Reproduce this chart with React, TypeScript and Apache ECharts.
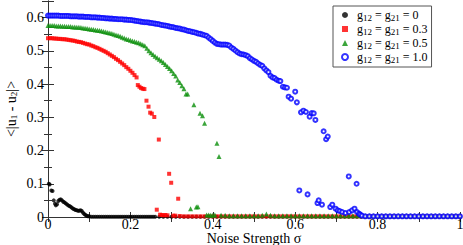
import React, { useEffect, useRef } from 'react';
import * as echarts from 'echarts';

// sigma, <|u1-u2|>  for g12 = g21 = 0
const g0Points: [number, number][] = [
  [0.002,0.1],[0.004,0.098],[0.008,0.08],[0.011,0.078],[0.014,0.05],[0.017,0.04],[0.019,0.035],[0.022,0.038],
  [0.025,0.048],[0.028,0.052],[0.031,0.053],[0.034,0.05],[0.037,0.046],[0.04,0.044],[0.043,0.041],[0.046,0.038],
  [0.049,0.035],[0.052,0.033],[0.055,0.031],[0.058,0.028],[0.061,0.025],[0.064,0.023],[0.067,0.021],[0.07,0.02],
  [0.073,0.019],[0.076,0.019],[0.079,0.02],[0.082,0.018],[0.085,0.013],[0.088,0.009],[0.091,0.006],[0.094,0.004],
  [0.097,0.002],[0.1,0.002],[0.105,0.001],[0.11,0.001],[0.115,0.001],[0.12,0.001],[0.125,0.001],[0.13,0.001],
  [0.135,0.001],[0.14,0.001],[0.145,0.001],[0.15,0.001],[0.155,0.001],[0.16,0.001],[0.165,0.001],[0.17,0.001],
  [0.175,0.001],[0.18,0.001],[0.185,0.001],[0.19,0.001],[0.195,0.001],[0.2,0.001],[0.205,0.001],[0.21,0.001],
  [0.215,0.001],[0.22,0.001],[0.225,0.001],[0.23,0.001],[0.235,0.001],[0.24,0.001],[0.245,0.001],[0.25,0.001],
  [0.255,0.001],[0.26,0.001],[0.27,0.001],[0.28,0.001],[0.29,0.001],[0.3,0.001],[0.31,0.001],[0.32,0.001],
  [0.33,0.001],[0.34,0.001],[0.35,0.001],[0.36,0.001],[0.37,0.001],[0.38,0.001],[0.39,0.001],[0.4,0.001],
  [0.41,0.001],[0.42,0.001],[0.43,0.001],[0.44,0.001],[0.45,0.001],[0.46,0.001],[0.47,0.001],[0.48,0.001],
  [0.49,0.001],[0.5,0.001],[0.51,0.001],[0.52,0.001],[0.53,0.001],[0.54,0.001],[0.55,0.001],[0.56,0.001],
  [0.57,0.001],[0.58,0.001],[0.59,0.001],[0.6,0.001],[0.61,0.001],[0.62,0.001],[0.63,0.001],[0.64,0.001],
  [0.65,0.001],[0.66,0.001],[0.67,0.001],[0.68,0.001],[0.69,0.001],[0.7,0.001],[0.71,0.001],[0.72,0.001],
  [0.73,0.001],[0.74,0.001],[0.75,0.001],[0.76,0.001],[0.77,0.001],[0.78,0.001],[0.79,0.001],[0.8,0.001],
  [0.81,0.001],[0.82,0.001],[0.83,0.001],[0.84,0.001],[0.85,0.001],[0.86,0.001],[0.87,0.001],[0.88,0.001],
  [0.89,0.001],[0.9,0.001],[0.91,0.001],[0.92,0.001],[0.93,0.001],[0.94,0.001],[0.95,0.001],[0.96,0.001],
  [0.97,0.001],[0.98,0.001],[0.99,0.001],[1.0,0.001],
];

// g12 = g21 = 0.3
const g03Points: [number, number][] = [
  [0,0.538],[0.005,0.538],[0.01,0.538],[0.015,0.537],[0.02,0.537],[0.025,0.536],[0.03,0.536],[0.035,0.535],
  [0.04,0.535],[0.045,0.534],[0.05,0.533],[0.055,0.532],[0.06,0.531],[0.065,0.53],[0.07,0.528],[0.075,0.527],
  [0.08,0.526],[0.085,0.524],[0.09,0.522],[0.095,0.52],[0.1,0.519],[0.105,0.516],[0.11,0.514],[0.115,0.511],
  [0.12,0.509],[0.125,0.506],[0.13,0.503],[0.135,0.5],[0.14,0.497],[0.145,0.493],[0.15,0.489],[0.155,0.485],
  [0.16,0.481],[0.165,0.476],[0.17,0.472],[0.175,0.467],[0.18,0.462],[0.185,0.457],[0.19,0.451],[0.195,0.446],
  [0.2,0.44],[0.205,0.434],[0.21,0.427],[0.215,0.42],[0.218,0.397],[0.222,0.392],[0.226,0.388],[0.23,0.386],
  [0.234,0.385],[0.239,0.35],[0.244,0.332],[0.248,0.314],[0.252,0.311],[0.258,0.301],[0.264,0.022],[0.269,0.233],
  [0.272,0.007],[0.276,0.006],[0.281,0.005],[0.285,0.006],[0.29,0.005],[0.294,0.13],[0.299,0.103],[0.304,0.004],
  [0.309,0.004],[0.316,0.055],[0.32,0.003],[0.33,0.002],[0.34,0.002],[0.35,0.002],[0.36,0.002],[0.37,0.002],
  [0.38,0.002],[0.39,0.002],[0.4,0.002],[0.41,0.002],[0.42,0.002],[0.43,0.002],[0.44,0.002],[0.45,0.002],
  [0.46,0.002],[0.47,0.002],[0.48,0.002],[0.49,0.002],[0.5,0.002],[0.51,0.002],[0.52,0.002],[0.53,0.002],
  [0.54,0.002],[0.55,0.002],[0.56,0.002],[0.57,0.002],[0.58,0.002],[0.59,0.002],[0.6,0.002],[0.61,0.002],
  [0.62,0.002],[0.63,0.002],[0.64,0.002],[0.65,0.002],[0.66,0.002],[0.67,0.002],[0.68,0.002],[0.69,0.002],
  [0.7,0.002],[0.71,0.002],[0.72,0.002],[0.73,0.002],[0.74,0.002],[0.75,0.002],[0.76,0.002],[0.77,0.002],
  [0.78,0.002],[0.79,0.002],[0.8,0.002],[0.81,0.002],[0.82,0.002],[0.83,0.002],[0.84,0.002],[0.85,0.002],
  [0.86,0.002],[0.87,0.002],[0.88,0.002],[0.89,0.002],[0.9,0.002],[0.91,0.002],[0.92,0.002],[0.93,0.002],
  [0.94,0.002],[0.95,0.002],[0.96,0.002],[0.97,0.002],[0.98,0.002],[0.99,0.002],[1.0,0.002],
];

// g12 = g21 = 0.5
const g05Points: [number, number][] = [
  [0,0.576],[0.005,0.576],[0.01,0.576],[0.015,0.576],[0.02,0.575],[0.025,0.575],[0.03,0.575],[0.035,0.574],
  [0.04,0.574],[0.045,0.573],[0.05,0.573],[0.055,0.573],[0.06,0.572],[0.065,0.572],[0.07,0.571],[0.075,0.571],
  [0.08,0.57],[0.085,0.569],[0.09,0.568],[0.095,0.567],[0.1,0.566],[0.105,0.565],[0.11,0.564],[0.115,0.563],
  [0.12,0.562],[0.125,0.561],[0.13,0.56],[0.135,0.558],[0.14,0.557],[0.145,0.555],[0.15,0.554],[0.155,0.552],
  [0.16,0.55],[0.165,0.548],[0.17,0.546],[0.175,0.544],[0.18,0.541],[0.185,0.539],[0.19,0.536],[0.195,0.534],
  [0.2,0.532],[0.205,0.53],[0.21,0.528],[0.215,0.526],[0.22,0.524],[0.225,0.521],[0.23,0.518],[0.235,0.515],
  [0.24,0.508],[0.245,0.5],[0.25,0.494],[0.255,0.489],[0.26,0.484],[0.265,0.479],[0.27,0.475],[0.275,0.47],
  [0.28,0.465],[0.285,0.459],[0.29,0.453],[0.295,0.447],[0.3,0.44],[0.305,0.432],[0.31,0.424],[0.315,0.412],
  [0.32,0.405],[0.325,0.395],[0.33,0.386],[0.335,0.37],[0.339,0.37],[0.346,0.025],[0.354,0.338],[0.36,0.03],
  [0.364,0.031],[0.369,0.312],[0.375,0.305],[0.38,0.282],[0.385,0.006],[0.39,0.006],[0.395,0.005],[0.4,0.005],
  [0.405,0.006],[0.41,0.222],[0.415,0.182],[0.42,0.005],[0.43,0.005],[0.44,0.004],[0.45,0.004],[0.46,0.004],
  [0.47,0.004],[0.48,0.004],[0.49,0.004],[0.5,0.004],[0.51,0.004],[0.52,0.005],[0.53,0.009],[0.54,0.005],
  [0.55,0.004],[0.56,0.004],[0.57,0.004],[0.58,0.004],[0.59,0.004],[0.6,0.004],[0.61,0.004],[0.62,0.004],
  [0.63,0.004],[0.64,0.004],[0.65,0.004],[0.66,0.004],[0.67,0.004],[0.68,0.004],[0.69,0.004],[0.7,0.004],
  [0.71,0.004],[0.72,0.004],[0.73,0.004],[0.74,0.004],[0.75,0.004],[0.76,0.004],[0.77,0.004],[0.78,0.004],
  [0.79,0.004],[0.8,0.004],[0.81,0.004],[0.82,0.004],[0.83,0.004],[0.84,0.004],[0.85,0.004],[0.86,0.004],
  [0.87,0.004],[0.88,0.004],[0.89,0.004],[0.9,0.004],[0.91,0.004],[0.92,0.004],[0.93,0.004],[0.94,0.004],
  [0.95,0.004],[0.96,0.004],[0.97,0.004],[0.98,0.004],[0.99,0.004],[1.0,0.004],
];

// g12 = g21 = 1.0
const g10Points: [number, number][] = [
  [0,0.606],[0.005,0.606],[0.01,0.606],[0.015,0.606],[0.02,0.606],[0.025,0.606],[0.03,0.605],[0.035,0.605],
  [0.04,0.605],[0.045,0.605],[0.05,0.605],[0.055,0.604],[0.06,0.604],[0.065,0.604],[0.07,0.604],[0.075,0.603],
  [0.08,0.603],[0.085,0.603],[0.09,0.602],[0.095,0.602],[0.1,0.602],[0.105,0.601],[0.11,0.601],[0.115,0.601],
  [0.12,0.6],[0.125,0.6],[0.13,0.599],[0.135,0.599],[0.14,0.598],[0.145,0.598],[0.15,0.597],[0.155,0.597],
  [0.16,0.596],[0.165,0.596],[0.17,0.595],[0.175,0.595],[0.18,0.595],[0.185,0.594],[0.19,0.594],[0.195,0.593],
  [0.2,0.593],[0.205,0.592],[0.21,0.591],[0.215,0.59],[0.22,0.589],[0.225,0.588],[0.23,0.587],[0.235,0.586],
  [0.24,0.586],[0.245,0.585],[0.25,0.584],[0.255,0.583],[0.26,0.582],[0.265,0.581],[0.27,0.58],[0.275,0.578],
  [0.28,0.577],[0.285,0.576],[0.29,0.575],[0.295,0.573],[0.3,0.572],[0.305,0.571],[0.31,0.569],[0.315,0.568],
  [0.32,0.567],[0.325,0.565],[0.33,0.564],[0.335,0.562],[0.34,0.56],[0.345,0.559],[0.35,0.557],[0.355,0.556],
  [0.36,0.554],[0.365,0.552],[0.37,0.551],[0.375,0.549],[0.38,0.547],[0.385,0.545],[0.39,0.54],[0.395,0.535],
  [0.4,0.53],[0.405,0.525],[0.41,0.521],[0.415,0.52],[0.42,0.519],[0.425,0.519],[0.43,0.519],[0.435,0.518],
  [0.44,0.516],[0.445,0.51],[0.45,0.506],[0.455,0.501],[0.46,0.496],[0.465,0.492],[0.47,0.49],[0.475,0.489],
  [0.48,0.487],[0.485,0.484],[0.49,0.478],[0.495,0.474],[0.5,0.47],[0.505,0.467],[0.51,0.462],[0.515,0.458],
  [0.52,0.455],[0.525,0.447],[0.53,0.441],[0.535,0.436],[0.54,0.425],[0.545,0.42],[0.55,0.418],[0.555,0.413],
  [0.56,0.41],[0.564,0.409],[0.57,0.392],[0.575,0.39],[0.58,0.389],[0.584,0.362],[0.59,0.356],[0.6,0.377],
  [0.604,0.345],[0.61,0.08],[0.614,0.315],[0.62,0.32],[0.626,0.316],[0.63,0.068],[0.635,0.302],[0.64,0.313],
  [0.645,0.312],[0.649,0.292],[0.654,0.042],[0.657,0.05],[0.665,0.037],[0.669,0.258],[0.675,0.234],[0.679,0.242],
  [0.685,0.03],[0.69,0.037],[0.698,0.025],[0.703,0.02],[0.708,0.018],[0.714,0.015],[0.722,0.012],[0.73,0.122],
  [0.731,0.015],[0.738,0.02],[0.744,0.025],[0.749,0.1],[0.75,0.015],[0.755,0.01],[0.758,0.007],[0.762,0.004],
  [0.77,0.002],[0.78,0.002],[0.79,0.002],[0.8,0.002],[0.81,0.002],[0.82,0.002],[0.83,0.002],[0.84,0.002],
  [0.85,0.002],[0.86,0.002],[0.87,0.002],[0.88,0.002],[0.89,0.002],[0.9,0.002],[0.91,0.002],[0.92,0.002],
  [0.93,0.002],[0.94,0.002],[0.95,0.002],[0.96,0.002],[0.97,0.002],[0.98,0.002],[0.99,0.002],[1.0,0.002],
];

const couplingValues = ['0', '0.3', '0.5', '1.0'];
const seriesColors = ['#000000', '#ff0000', '#0a8f0a', '#0000ff'];
const seriesSymbols = ['circle', 'rect', 'triangle', 'emptyCircle'];
const seriesSizes = [4, 4, 5, 4];

const FONT = 'Liberation Serif';

export default function App() {
  const ref = useRef<HTMLDivElement>(null);
  useEffect(() => {
    const chart = echarts.init(ref.current!, null, { renderer: 'svg' });
    const allData = [g0Points, g03Points, g05Points, g10Points];
    const names = couplingValues.map(v => `g{sub|12} = g{sub|21} = ${v}`);
    const subStyle = { fontSize: 9, fontFamily: FONT, color: '#000', verticalAlign: 'bottom', padding: [5, 0, 0, 0] };
    const axisLine = { show: true, lineStyle: { color: '#333', width: 1 } };
    const fmt = (v: number) => (v === 0 ? '0' : v === 1 ? '1' : v.toFixed(1));
    chart.setOption({
      animation: false,
      backgroundColor: '#fff',
      grid: { left: 48, right: 3, top: 1, bottom: 28, containLabel: false, outerBoundsMode: 'none' },
      legend: {
        orient: 'vertical',
        left: 333,
        top: 6,
        padding: [3, 4, 3, 8],
        itemGap: 1,
        itemWidth: 6,
        itemHeight: 6,
        borderColor: '#555',
        borderWidth: 1,
        borderRadius: 0,
        backgroundColor: '#fff',
        data: names,
        formatter: (n: string) => `{gap|}${n}`,
        textStyle: {
          fontFamily: FONT,
          fontSize: 12,
          color: '#000',
          rich: { sub: subStyle, gap: { width: 4 } },
        },
      },
      xAxis: [
        {
          type: 'value', min: 0, max: 1, interval: 0.2,
          name: 'Noise Strength σ', nameLocation: 'middle', nameGap: 15, nameMoveOverlap: false,
          nameTextStyle: { fontFamily: FONT, fontSize: 14, color: '#000', lineHeight: 12 },
          axisLine, splitLine: { show: false },
          axisTick: { inside: true, length: 5, lineStyle: { color: '#333' } },
          minorTick: { show: true, splitNumber: 2, length: 5, lineStyle: { color: '#333' } },
          axisLabel: { fontFamily: FONT, fontSize: 14, color: '#000', margin: 1, lineHeight: 12, formatter: fmt },
        },
        {
          type: 'value', min: 0, max: 1, interval: 0.2, position: 'top',
          axisLine, splitLine: { show: false },
          axisTick: { inside: true, length: 5, lineStyle: { color: '#333' } },
          minorTick: { show: true, splitNumber: 2, length: 5, lineStyle: { color: '#333' } },
          axisLabel: { show: false },
        },
      ],
      yAxis: [
        {
          type: 'value', min: 0, max: 0.65, interval: 0.1,
          name: '<|u{sub|1} - u{sub|2}|>', nameLocation: 'middle', nameGap: 30, nameMoveOverlap: false,
          nameTextStyle: { fontFamily: FONT, fontSize: 14, color: '#000', rich: { sub: { ...subStyle, fontSize: 9 } } },
          axisLine, splitLine: { show: false },
          axisTick: { inside: true, length: 6, lineStyle: { color: '#333' } },
          minorTick: { show: true, splitNumber: 2, length: 4, lineStyle: { color: '#333' } },
          axisLabel: { fontFamily: FONT, fontSize: 14, color: '#000', margin: 4, showMaxLabel: false, formatter: fmt },
        },
        {
          type: 'value', min: 0, max: 0.65, interval: 0.1, position: 'right',
          axisLine, splitLine: { show: false },
          axisTick: { inside: true, length: 6, lineStyle: { color: '#333' } },
          minorTick: { show: true, splitNumber: 2, length: 4, lineStyle: { color: '#333' } },
          axisLabel: { show: false },
        },
      ],
      series: allData.map((d, i) => ({
        type: 'scatter',
        name: names[i],
        xAxisIndex: 0,
        yAxisIndex: 0,
        data: d,
        symbol: seriesSymbols[i],
        symbolSize: seriesSizes[i],
        itemStyle: i === 3
          ? { color: seriesColors[i], borderColor: seriesColors[i], borderWidth: 1 }
          : { color: seriesColors[i] },
        emphasis: { disabled: true },
      })),
    });
    return () => chart.dispose();
  }, []);
  return <div ref={ref} style={{ position: 'absolute', left: 0, top: 0, width: 463, height: 245 }} />;
}
